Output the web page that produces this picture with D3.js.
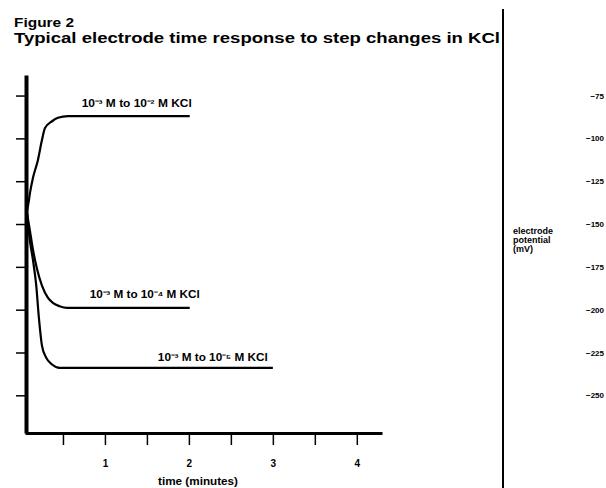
<!DOCTYPE html>
<html>
<head>
<meta charset="utf-8">
<script src="https://cdn.jsdelivr.net/npm/d3@7"></script>
<style>
  body { margin: 0; background: #fff; }
  svg { font-family: 'Liberation Sans', Arial, sans-serif; }
</style>
</head>
<body>
<div id="chart"></div>
<script>
// time in minutes, potential in mV
var timeTicks = [0.5, 1, 1.5, 2, 2.5, 3, 3.5, 4]
var timeLabels = [1, 2, 3, 4]
var potentialTicks = [-75, -100, -125, -150, -175, -200, -225, -250]

var upTimes = [0.07, 0.095, 0.107, 0.143, 0.2, 0.25, 0.286, 0.37, 0.44, 0.56, 2.01]
var upValues = [-143, -136, -132, -123, -113, -101, -94, -90, -88, -87, -87]

var midTimes = [0.07, 0.107, 0.143, 0.19, 0.25, 0.32, 0.38, 0.46, 0.55, 2.01]
var midValues = [-143, -154, -165, -176, -186, -193, -196, -198, -199, -199]

var lowTimes = [0.07, 0.107, 0.143, 0.18, 0.214, 0.25, 0.3, 0.37, 0.46, 3.0]
var lowValues = [-143, -160, -171, -185, -205, -221, -228, -232, -234, -234]

var curveNames = ['10\u207B\u00B3 M to 10\u207B\u00B2 M KCl', '10\u207B\u00B3 M to 10\u207B\u2074 M KCl', '10\u207B\u00B3 M to 10\u207B\u2075 M KCl']

var width = 606
var height = 488

var svg = d3.select('#chart')
  .append('svg')
  .attr('width', width)
  .attr('height', height)

var xPositionScale = d3.scaleLinear().domain([0.048, 4.3]).range([25, 382])
var yPositionScale = d3.scaleLinear().domain([-272, -63]).range([433, 75])

// titles
svg.append('text')
  .text('Figure 2')
  .attr('x', 14)
  .attr('y', 27)
  .attr('font-size', '13px')
  .attr('font-weight', 'bold')
  .attr('textLength', 60)
  .attr('lengthAdjust', 'spacingAndGlyphs')

svg.append('text')
  .text('Typical electrode time response to step changes in KCl')
  .attr('x', 14)
  .attr('y', 43)
  .attr('font-size', '14px')
  .attr('font-weight', 'bold')
  .attr('textLength', 486)
  .attr('lengthAdjust', 'spacingAndGlyphs')

// divider
svg.append('line')
  .attr('x1', 503).attr('x2', 503)
  .attr('y1', 9).attr('y2', height)
  .attr('stroke', '#000')
  .attr('stroke-width', 2)

// axes
var xAxis = d3.axisBottom(xPositionScale)
  .tickValues(timeTicks)
  .tickSize(12)
  .tickSizeOuter(0)
  .tickPadding(15)
  .tickFormat(function (d) { return timeLabels.indexOf(d) >= 0 ? d : '' })

var xg = svg.append('g')
  .attr('class', 'axis x-axis')
  .attr('transform', 'translate(0,433)')
  .call(xAxis)
xg.select('.domain').attr('stroke-width', 3)
xg.selectAll('.tick line').attr('stroke-width', 1.5)
xg.selectAll('text').attr('font-size', '10px').attr('font-weight', 'bold')

var yAxis = d3.axisLeft(yPositionScale)
  .tickValues(potentialTicks)
  .tickSize(10)
  .tickSizeOuter(0)
  .tickFormat('')

var yg = svg.append('g')
  .attr('class', 'axis y-axis')
  .attr('transform', 'translate(26,0)')
  .call(yAxis)
yg.select('.domain').attr('stroke-width', 4)
yg.selectAll('.tick line').attr('stroke-width', 1.5)

// potential labels sit at the far right of the page
var yLabels = d3.axisLeft(yPositionScale)
  .tickValues(potentialTicks)
  .tickSize(0)
  .tickPadding(1)

var yl = svg.append('g')
  .attr('transform', 'translate(605,0)')
  .call(yLabels)
yl.select('.domain').remove()
yl.selectAll('text').attr('font-size', '8px').attr('font-weight', 'bold')

svg.append('text')
  .text('time (minutes)')
  .attr('x', 198)
  .attr('y', 485)
  .attr('text-anchor', 'middle')
  .attr('font-size', '10px')
  .attr('font-weight', 'bold')
  .attr('textLength', 80)
  .attr('lengthAdjust', 'spacingAndGlyphs')

var yTitle = svg.append('text')
  .attr('x', 513)
  .attr('font-size', '9px')
  .attr('font-weight', 'bold')
;['electrode', 'potential', '(mV)'].forEach(function (t, i) {
  yTitle.append('tspan').attr('x', 513).attr('y', 234 + i * 9).text(t)
})

// curves
var line = d3.line()
  .x(function (d) { return xPositionScale(d[0]) })
  .y(function (d) { return yPositionScale(d[1]) })
  .curve(d3.curveMonotoneX)

var series = [
  { times: upTimes, values: upValues, name: curveNames[0], dx: 2, dy: -9 },
  { times: midTimes, values: midValues, name: curveNames[1], dx: 10, dy: -10 },
  { times: lowTimes, values: lowValues, name: curveNames[2], dx: -5, dy: -7 }
]

series.forEach(function (s) {
  var pts = s.times.map(function (t, i) { return [t, s.values[i]] })
  svg.append('path')
    .datum(pts)
    .attr('d', line)
    .attr('fill', 'none')
    .attr('stroke', '#000')
    .attr('stroke-width', 2.2)

  var last = pts[pts.length - 1]
  svg.append('text')
    .text(s.name)
    .attr('x', xPositionScale(last[0]) + s.dx)
    .attr('y', yPositionScale(last[1]) + s.dy)
    .attr('text-anchor', 'end')
    .attr('font-size', '10px')
    .attr('font-weight', 'bold')
    .attr('textLength', 110)
    .attr('lengthAdjust', 'spacingAndGlyphs')
})
</script>
</body>
</html>
